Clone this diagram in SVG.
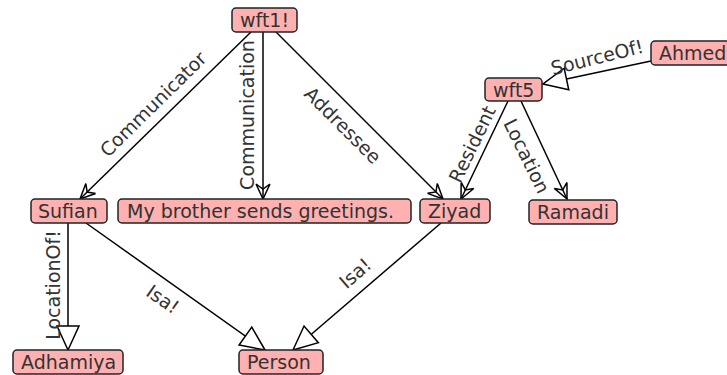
<svg xmlns="http://www.w3.org/2000/svg" width="727" height="375" viewBox="0 0 727 375">
<style>
.n rect{fill:#ffb0b0;stroke:#222;stroke-width:1.5}
.n text{font-family:"DejaVu Sans",sans-serif;font-size:19px;fill:#333}
.e line{stroke:#000;stroke-width:1.5;fill:none}
.l{font-family:"DejaVu Sans",sans-serif;font-size:19px;fill:#333;text-anchor:middle;dominant-baseline:central}
</style>
<defs>
<marker id="vee" markerUnits="userSpaceOnUse" orient="auto" overflow="visible" markerWidth="20" markerHeight="20" refX="0" refY="0">
<path d="M-15,-7 L0,0 L-15,7 M-15,-7 L-10,0 L-15,7" fill="none" stroke="#000" stroke-width="1.5"/>
</marker>
<marker id="tri" markerUnits="userSpaceOnUse" orient="auto" overflow="visible" markerWidth="30" markerHeight="30" refX="0" refY="0">
<path d="M0,0 L-24,-11 L-24,11 Z" fill="#fff" stroke="#000" stroke-width="1.5"/>
</marker>
</defs>
<g id="edges" class="e">
<line x1="251" y1="32" x2="80" y2="199" marker-end="url(#vee)"/>
<line x1="263" y1="32" x2="263" y2="199" marker-end="url(#vee)"/>
<line x1="276" y1="32" x2="443" y2="199" marker-end="url(#vee)"/>
<line x1="651" y1="61" x2="543" y2="84" marker-end="url(#tri)"/>
<line x1="508" y1="101" x2="461" y2="199" marker-end="url(#vee)"/>
<line x1="521" y1="101" x2="567" y2="199" marker-end="url(#vee)"/>
<line x1="68" y1="223" x2="68" y2="350" marker-end="url(#tri)"/>
<line x1="86" y1="223" x2="265" y2="350" marker-end="url(#tri)"/>
<line x1="441" y1="223" x2="293" y2="350" marker-end="url(#tri)"/>
</g>
<g id="edge-labels">
<text class="l" transform="translate(153,104) rotate(-44.5)">Communicator</text>
<text class="l" transform="translate(247,115) rotate(-90)">Communication</text>
<text class="l" transform="translate(343,125) rotate(45)">Addressee</text>
<text class="l" transform="translate(597,57) rotate(-14)">SourceOf!</text>
<text class="l" transform="translate(472,144) rotate(-64)">Resident</text>
<text class="l" transform="translate(527,156) rotate(64)">Location</text>
<text class="l" transform="translate(53,285) rotate(-90)">LocationOf!</text>
<text class="l" transform="translate(163,299) rotate(35)">Isa!</text>
<text class="l" transform="translate(355,273) rotate(-41)">Isa!</text>
</g>
<g id="wft1" class="n"><rect x="232" y="8" width="65" height="24" rx="4"/><text x="240" y="26.5">wft1!</text></g>
<g id="ahmed" class="n"><rect x="651" y="41" width="84" height="24" rx="4"/><text x="659" y="59.5">Ahmed</text></g>
<g id="wft5" class="n"><rect x="485" y="78" width="57" height="23" rx="4"/><text x="493" y="96.5">wft5</text></g>
<g id="sufian" class="n"><rect x="31" y="199" width="76" height="24" rx="4"/><text x="38" y="217.5">Sufian</text></g>
<g id="message" class="n"><rect x="118" y="199" width="293" height="24" rx="4"/><text x="127" y="217.5">My brother sends greetings.</text></g>
<g id="ziyad" class="n"><rect x="420" y="199" width="70" height="24" rx="4"/><text x="428" y="217.5">Ziyad</text></g>
<g id="ramadi" class="n"><rect x="529" y="200" width="88" height="24" rx="4"/><text x="537" y="218.5">Ramadi</text></g>
<g id="adhamiya" class="n"><rect x="13" y="350" width="110" height="24" rx="4"/><text x="21" y="368.5">Adhamiya</text></g>
<g id="person" class="n"><rect x="239" y="350" width="84" height="24" rx="4"/><text x="247" y="368.5">Person</text></g>
</svg>
